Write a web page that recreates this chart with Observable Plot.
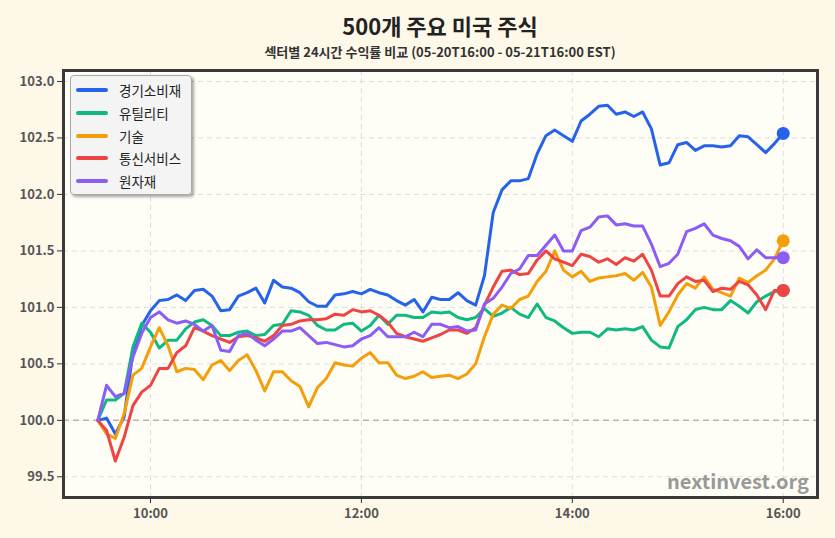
<!DOCTYPE html>
<html><head><meta charset="utf-8">
<script src="https://cdn.jsdelivr.net/npm/d3@7"></script>
<script src="https://cdn.jsdelivr.net/npm/@observablehq/plot@0.6"></script>
<style>
  html,body{margin:0;padding:0;background:#fdf8e7;}
  body{font-family:"Noto Sans CJK KR","Noto Sans",sans-serif;}
  #wrap{position:relative;width:835px;height:538px;overflow:hidden;}
  #chart{position:absolute;left:0;top:0;}
  #title{position:absolute;left:40px;width:800px;top:10px;text-align:center;font-size:22px;font-weight:700;color:#222;line-height:30px;}
  #subtitle{position:absolute;left:40px;width:800px;top:43px;text-align:center;font-size:13px;font-weight:700;color:#333;line-height:18px;}
  #legend{position:absolute;left:70px;top:75px;width:120px;height:118px;background:rgba(243,243,243,0.95);border:1px solid #a8a8a8;border-radius:4px;box-shadow:2px 2px 3px rgba(0,0,0,0.35);}
  .li{position:absolute;left:0;height:20px;}
  .li .sw{position:absolute;left:5px;top:8px;width:32px;height:4px;border-radius:2px;}
  .li .tx{position:absolute;left:48px;top:0;font-size:13.5px;line-height:20px;color:#222;white-space:nowrap;}
  #wm{position:absolute;right:26px;top:467px;font-size:20px;font-weight:700;color:#999;line-height:28px;font-family:"Noto Sans CJK KR","Noto Sans",sans-serif;}
  g[aria-label="x-axis tick label"], g[aria-label="y-axis tick label"]{fill:#555;font-weight:700;}
</style></head>
<body>
<div id="wrap">
  <div id="chart"></div>
  <div id="title"></div>
  <div id="subtitle"></div>
  <div id="legend"></div>
  <div id="wm"></div>
</div>
<script>
const titleText = "500개 주요 미국 주식";
const subtitleText = "섹터별 24시간 수익률 비교 (05-20T16:00 - 05-21T16:00 EST)";
const watermark = "nextinvest.org";

const seriesNames = ["경기소비재", "유틸리티", "기술", "통신서비스", "원자재"];
const seriesColors = ["#2563eb", "#10b981", "#f59e0b", "#ef4444", "#8b5cf6"];

// 5-minute samples from 09:30 to 16:00
const startTime = "09:30";
const stepMinutes = 5;

const consumerDisc = [100.00,100.02,99.88,100.03,100.60,100.84,100.97,101.06,101.07,101.11,
  101.06,101.15,101.16,101.10,100.97,100.98,101.10,101.13,101.17,101.04,
  101.24,101.18,101.17,101.13,101.05,101.01,101.01,101.11,101.12,101.14,
  101.12,101.16,101.13,101.11,101.06,101.02,101.07,100.96,101.09,101.07,
  101.07,101.13,101.06,101.02,101.28,101.84,102.04,102.12,102.12,102.14,
  102.36,102.52,102.57,102.52,102.47,102.65,102.71,102.78,102.79,102.71,
  102.73,102.69,102.73,102.58,102.26,102.28,102.44,102.46,102.39,102.43,
  102.43,102.42,102.43,102.52,102.51,102.44,102.37,102.45,102.54];

const utilities = [100.00,100.18,100.18,100.24,100.65,100.86,100.78,100.64,100.71,100.71,
  100.81,100.87,100.89,100.84,100.75,100.75,100.78,100.79,100.75,100.76,
  100.84,100.85,100.97,100.96,100.93,100.84,100.80,100.80,100.85,100.86,
  100.79,100.84,100.93,100.85,100.93,100.93,100.91,100.91,100.96,100.95,
  100.96,100.91,100.89,100.91,100.99,100.92,100.95,101.00,100.94,100.91,
  101.03,100.91,100.88,100.82,100.77,100.78,100.78,100.74,100.81,100.80,
  100.81,100.80,100.83,100.71,100.65,100.64,100.83,100.89,100.98,101.00,
  100.98,100.98,101.06,101.01,100.95,101.05,101.10,101.14,101.15];

const technology = [100.00,99.88,99.84,100.06,100.40,100.46,100.65,100.82,100.66,100.43,
  100.46,100.45,100.36,100.49,100.53,100.44,100.53,100.58,100.44,100.26,
  100.43,100.43,100.35,100.30,100.12,100.29,100.37,100.51,100.49,100.48,
  100.55,100.60,100.51,100.51,100.40,100.37,100.39,100.43,100.38,100.39,
  100.40,100.37,100.41,100.50,100.74,100.94,101.02,100.99,101.07,101.10,
  101.23,101.32,101.50,101.33,101.27,101.32,101.23,101.26,101.27,101.28,
  101.30,101.24,101.31,101.18,100.84,100.96,101.11,101.21,101.17,101.27,
  101.16,101.13,101.10,101.26,101.22,101.28,101.33,101.43,101.59];

const telecom = [100.00,99.91,99.64,99.85,100.13,100.25,100.31,100.46,100.46,100.60,
  100.66,100.82,100.79,100.75,100.72,100.69,100.74,100.75,100.73,100.70,
  100.75,100.84,100.85,100.88,100.89,100.89,100.90,100.94,100.93,100.98,
  100.96,100.97,100.93,100.87,100.77,100.74,100.72,100.70,100.73,100.76,
  100.80,100.80,100.77,100.82,101.02,101.18,101.32,101.33,101.29,101.30,
  101.42,101.50,101.43,101.40,101.37,101.47,101.45,101.40,101.43,101.38,
  101.44,101.41,101.47,101.33,101.10,101.10,101.21,101.27,101.23,101.24,
  101.14,101.17,101.16,101.23,101.20,101.11,100.98,101.15,101.15];

const materials = [100.00,100.31,100.21,100.24,100.56,100.77,100.91,100.96,100.89,100.86,
  100.88,100.85,100.79,100.84,100.62,100.61,100.75,100.77,100.71,100.66,
  100.72,100.79,100.79,100.82,100.75,100.68,100.69,100.67,100.65,100.66,
  100.72,100.75,100.82,100.74,100.74,100.74,100.78,100.74,100.85,100.85,
  100.82,100.83,100.79,100.80,101.03,101.08,101.18,101.30,101.34,101.46,
  101.46,101.55,101.64,101.50,101.50,101.68,101.71,101.80,101.81,101.73,
  101.74,101.72,101.72,101.56,101.36,101.39,101.47,101.67,101.70,101.74,
  101.64,101.61,101.59,101.54,101.43,101.51,101.44,101.44,101.44];

const seriesValues = [consumerDisc, utilities, technology, telecom, materials];

const yTicks = [99.5, 100.0, 100.5, 101.0, 101.5, 102.0, 102.5, 103.0];
const xTickLabels = ["10:00", "12:00", "14:00", "16:00"];
const baseline = 100;

// ---- build ----
const toDate = (hhmm, addMin = 0) => {
  const [h, m] = hhmm.split(":").map(Number);
  return new Date(Date.UTC(2025, 4, 21, h, m) + addMin * 60000);
};
const t0 = toDate(startTime);
const rows = [];
seriesValues.forEach((vals, s) => {
  vals.forEach((v, i) => rows.push({series: seriesNames[s], s, time: new Date(+t0 + i * stepMinutes * 60000), value: v}));
});
const lastRows = seriesValues.map((vals, s) => rows.filter(r => r.s === s).at(-1));
const xTicks = xTickLabels.map(l => toDate(l));

const chart = Plot.plot({
  width: 835,
  height: 538,
  marginLeft: 63,
  marginRight: 18,
  marginTop: 70,
  marginBottom: 41,
  style: {background: "transparent", fontFamily: '"Noto Sans CJK KR","Noto Sans",sans-serif', fontSize: "13px", color: "#333"},
  x: {type: "utc", domain: [toDate("09:10", 0.5), toDate("16:19", 0.5)]},
  y: {domain: [99.317, 103.097]},
  color: {domain: seriesNames, range: seriesColors},
  marks: [
    Plot.frame({fill: "#fffef6", stroke: null}),
    Plot.ruleY(yTicks.filter(d => d !== baseline), {stroke: "#dcdcdc", strokeWidth: 1, strokeDasharray: "5,4"}),
    Plot.ruleX(xTicks, {stroke: "#dcdcdc", strokeWidth: 1, strokeDasharray: "5,4"}),
    Plot.ruleY([baseline], {stroke: "#b5b5b5", strokeWidth: 1.5, strokeDasharray: "6,4"}),
    ...seriesNames.map((name, s) =>
      Plot.line(rows.filter(r => r.s === s), {x: "time", y: "value", stroke: seriesColors[s], strokeWidth: 3, strokeLinejoin: "round", strokeLinecap: "round"})
    ),
    Plot.dot(lastRows, {x: "time", y: "value", fill: d => seriesColors[d.s], r: 6.5, stroke: null}),
    Plot.axisX(xTicks, {tickFormat: d3.utcFormat("%H:%M"), tickSize: 6, tickPadding: 5, label: null, stroke: "#333"}),
    Plot.axisY(yTicks, {tickFormat: d3.format(".1f"), tickSize: 6, tickPadding: 3, label: null, stroke: "#333"}),
    Plot.frame({stroke: "#3a3a3a", strokeWidth: 3})
  ]
});
document.getElementById("chart").appendChild(chart);

document.getElementById("title").textContent = titleText;
document.getElementById("subtitle").textContent = subtitleText;
document.getElementById("wm").textContent = watermark;

const legend = document.getElementById("legend");
seriesNames.forEach((name, s) => {
  const li = document.createElement("div");
  li.className = "li";
  li.style.top = (4 + s * 22.8) + "px";
  li.innerHTML = `<div class="sw" style="background:${seriesColors[s]}"></div><div class="tx"></div>`;
  li.querySelector(".tx").textContent = name;
  legend.appendChild(li);
});
</script>
</body></html>
